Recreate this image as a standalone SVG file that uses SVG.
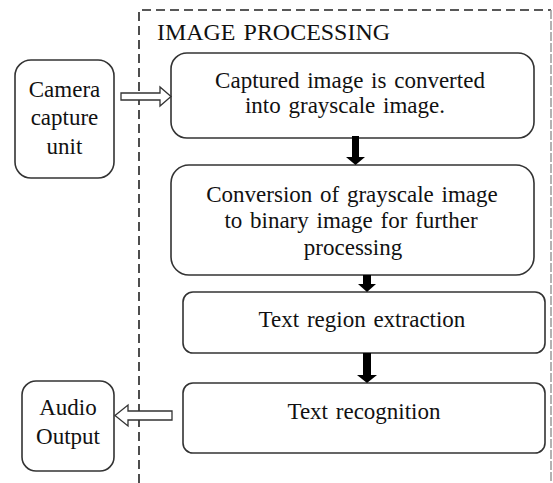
<svg xmlns="http://www.w3.org/2000/svg" width="553" height="483" viewBox="0 0 553 483">
<style>
.box{fill:#fff;stroke:#333;stroke-width:1.6}
.hollow{fill:#fff;stroke:#333;stroke-width:1.3}
.solid{fill:#000;stroke:none}
text{font-family:'Liberation Serif','Times New Roman',serif;font-size:23px;fill:#111;word-spacing:2px}
.c{text-anchor:middle}
</style>
<rect width="553" height="483" fill="#fff"/>
<g id="frame">
<path d="M139,483 V10 H551" fill="none" stroke="#222" stroke-width="1.6" stroke-dasharray="9,5"/>
<path d="M551,10 V483" fill="none" stroke="#999" stroke-width="1.5" stroke-dasharray="9,2"/>
<text x="157" y="40" textLength="233" lengthAdjust="spacingAndGlyphs">IMAGE PROCESSING</text>
</g>
<g id="camera">
<rect class="box" x="15" y="60" width="99" height="118" rx="16"/>
<text class="c" x="64.5" y="97">Camera</text>
<text class="c" x="64.5" y="125">capture</text>
<text class="c" x="64.5" y="154">unit</text>
</g>
<g id="step1">
<rect class="box" x="171" y="53" width="363" height="85" rx="16"/>
<text class="c" x="350" y="88">Captured image is converted</text>
<text class="c" x="345" y="113">into grayscale image.</text>
</g>
<g id="step2">
<rect class="box" x="171" y="165" width="363" height="110" rx="18"/>
<text class="c" x="352" y="202">Conversion of grayscale image</text>
<text class="c" x="351" y="228">to binary image for further</text>
<text class="c" x="353" y="255">processing</text>
</g>
<g id="step3">
<rect class="box" x="183" y="292" width="362" height="61" rx="10"/>
<text class="c" x="362" y="327">Text region extraction</text>
</g>
<g id="step4">
<rect class="box" x="183" y="383" width="362" height="70" rx="10"/>
<text class="c" x="364" y="419">Text recognition</text>
</g>
<g id="audio">
<rect class="box" x="22" y="381" width="92" height="90" rx="14"/>
<text class="c" x="68" y="415">Audio</text>
<text class="c" x="68" y="444">Output</text>
</g>
<g id="connectors">
<path class="hollow" d="M121,93 H160 V87 L171,96.5 L160,106 V100 H121 Z"/>
<path class="hollow" d="M172,411 H128 V405 L115,415.5 L128,426 V420 H172 Z"/>
<path class="solid" d="M352,136 H359 V157 H365 L355.5,165 L346,157 H352 Z"/>
<path class="solid" d="M363,275 H371 V284 H376 L367,292 L358,284 H363 Z"/>
<path class="solid" d="M363,353 H371 V375 H377 L367,383 L357,375 H363 Z"/>
</g>
</svg>
